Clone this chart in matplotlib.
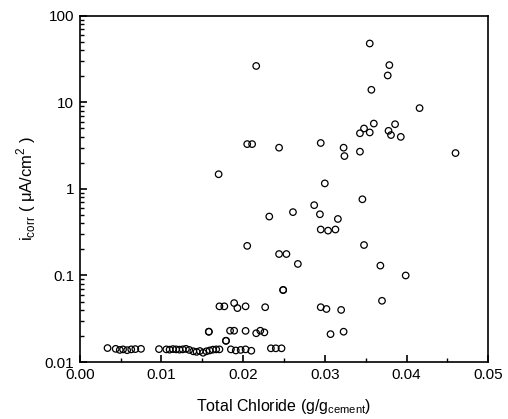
import numpy as np
import matplotlib
matplotlib.use("Agg")
import matplotlib.pyplot as plt
from matplotlib.ticker import FixedLocator, NullFormatter, LogLocator

plt.rcParams['font.family'] = ['Liberation Sans', 'DejaVu Sans']
plt.rcParams['mathtext.fontset'] = 'custom'
plt.rcParams['mathtext.rm'] = 'Liberation Sans'

# total chloride (g/g cement) vs corrosion current density (uA/cm2)
chloride = [
    0.0355, 0.0379, 0.0377, 0.0357, 0.0416,
    0.0360, 0.0348, 0.0343, 0.0355, 0.0386, 0.0378, 0.0381, 0.0393,
    0.0216, 0.0205, 0.0211, 0.0244, 0.0295, 0.0323, 0.0324, 0.0343, 0.0460,
    0.0170, 0.0300, 0.0346, 0.0287, 0.0261, 0.0232, 0.0294, 0.0316,
    0.0295, 0.0304, 0.0313, 0.0348, 0.0205, 0.0244, 0.0253, 0.0267, 0.0368, 0.0399,
    0.0249, 0.0249, 0.0370,
    0.0227, 0.0295, 0.0302, 0.0320,
    0.0171, 0.0177, 0.0189, 0.0193, 0.0203,
    0.0216, 0.0221, 0.0226, 0.0307, 0.0323,
    0.0158, 0.0158, 0.0184, 0.0189, 0.0203,
    0.0179, 0.0179,
    0.0034, 0.0044, 0.0049, 0.0053, 0.0058, 0.0063, 0.0068, 0.0075,
    0.0097, 0.0106, 0.0110, 0.0114, 0.0118, 0.0122, 0.0126, 0.0130, 0.0134,
    0.0139, 0.0143, 0.0147, 0.0151, 0.0155, 0.0159, 0.0163, 0.0167, 0.0171,
    0.0185, 0.0191, 0.0197, 0.0203, 0.0210,
    0.0234, 0.0240, 0.0247,
]
icorr = [
    48, 27, 20.5, 14, 8.6,
    5.7, 5.0, 4.4, 4.5, 5.6, 4.7, 4.2, 4.0,
    26.4, 3.3, 3.3, 3.0, 3.4, 3.0, 2.4, 2.7, 2.6,
    1.48, 1.16, 0.76, 0.65, 0.54, 0.48, 0.51, 0.45,
    0.34, 0.33, 0.34, 0.225, 0.22, 0.177, 0.177, 0.136, 0.13, 0.10,
    0.068, 0.068, 0.051,
    0.043, 0.043, 0.041, 0.040,
    0.044, 0.044, 0.048, 0.042, 0.044,
    0.0215, 0.023, 0.022, 0.021, 0.0224,
    0.0224, 0.0224, 0.023, 0.023, 0.0229,
    0.0176, 0.0176,
    0.0145, 0.0142, 0.0138, 0.0140, 0.0137, 0.0140, 0.0141, 0.0142,
    0.0141, 0.0140, 0.0139, 0.0141, 0.0140, 0.0139, 0.0140, 0.0142, 0.0138,
    0.0133, 0.0131, 0.0134, 0.0128, 0.0133, 0.0136, 0.0139, 0.0140, 0.0140,
    0.0140, 0.0136, 0.0138, 0.0140, 0.0135,
    0.0144, 0.0144, 0.0144,
]

x_ticks = [0.00, 0.01, 0.02, 0.03, 0.04, 0.05]
x_labels = ["0.00", "0.01", "0.02", "0.03", "0.04", "0.05"]
y_ticks = [0.01, 0.1, 1, 10, 100]
y_labels = ["0.01", "0.1", "1", "10", "100"]

fig = plt.figure(figsize=(5.08, 4.19), dpi=100)
ax = fig.add_axes([0.157, 0.136, 0.804, 0.826])

ax.scatter(chloride, icorr, s=22, facecolors='none', edgecolors='black', linewidths=0.9)

ax.set_yscale('log')
ax.set_xlim(0, 0.05)
ax.set_ylim(0.01, 100)
ax.set_xticks(x_ticks)
ax.set_xticklabels(x_labels)
ax.xaxis.set_minor_locator(FixedLocator([0.005, 0.015, 0.025, 0.035, 0.045]))
ax.set_yticks(y_ticks)
ax.set_yticklabels(y_labels)
ax.yaxis.set_minor_locator(LogLocator(base=10, subs=np.arange(2, 10)))
ax.yaxis.set_minor_formatter(NullFormatter())

ax.tick_params(which='major', direction='in', length=5, width=1.2, labelsize=11, pad=4)
ax.tick_params(which='minor', direction='in', length=3, width=1.0)
for sp in ax.spines.values():
    sp.set_linewidth(1.2)

ax.set_xlabel(r"Total Chloride (g/g$_{\mathregular{cement}}$)", fontsize=11.5, labelpad=11)
ax.set_ylabel(r"i$_{\mathregular{corr}}$ ( μA/cm$^{\mathregular{2}}$ )", fontsize=12, labelpad=5)

fig.savefig("out.png", dpi=100)
